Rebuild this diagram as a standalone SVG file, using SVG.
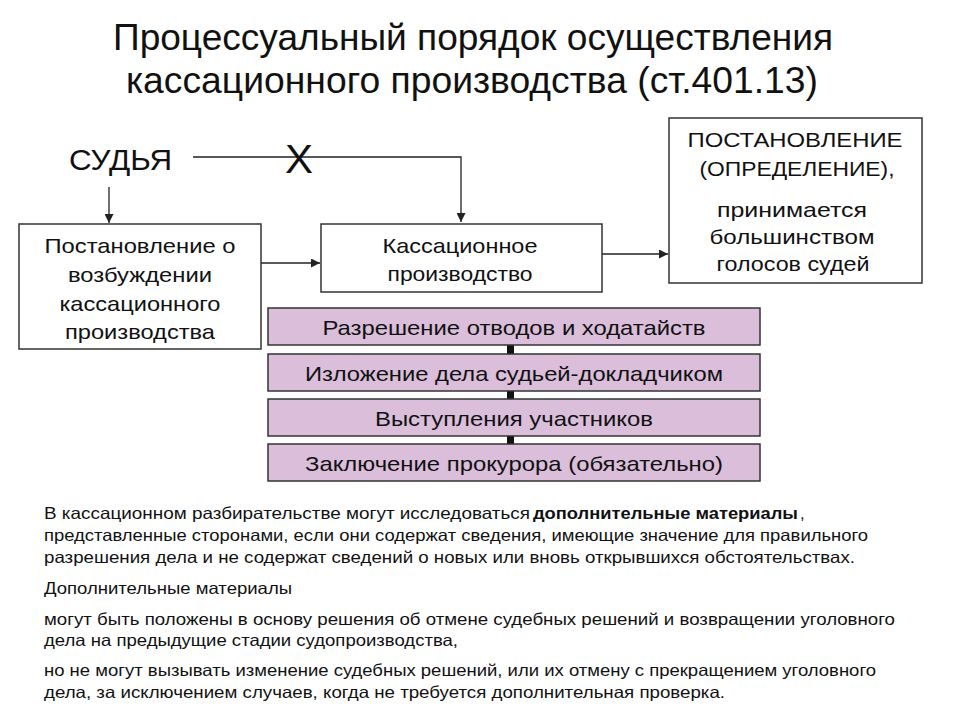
<svg xmlns="http://www.w3.org/2000/svg" width="960" height="720" viewBox="0 0 960 720">
<defs>
<marker id="ah" viewBox="0 0 10 10" refX="10" refY="5" markerWidth="9" markerHeight="9" markerUnits="userSpaceOnUse" orient="auto">
<path d="M0,0 L10,5 L0,10 Z" fill="#222"/>
</marker>
</defs>
<style>
text{font-family:"Liberation Sans",Arial,sans-serif;fill:#111}
.title{font-size:37px;text-anchor:middle}
.box{fill:#fff;stroke:#333;stroke-width:1.5}
.step{fill:#dabeda;stroke:#333;stroke-width:1.5}
.lbl{font-size:21px;text-anchor:middle}
.body{font-size:16.5px}
.b{font-weight:bold}
.conn{fill:none;stroke:#222;stroke-width:1.3}
</style>
<rect width="960" height="720" fill="#fff"/>
<g id="title">
<text class="title" x="473" y="50" textLength="720" lengthAdjust="spacingAndGlyphs">Процессуальный порядок осуществления</text>
<text class="title" x="472" y="93" textLength="692" lengthAdjust="spacingAndGlyphs">кассационного производства (ст.401.13)</text>
</g>
<g id="connectors">
<path class="conn" d="M193,157 H461 V222" marker-end="url(#ah)"/>
<path class="conn" d="M109,187 V223" marker-end="url(#ah)"/>
<path class="conn" d="M261,263 H320" marker-end="url(#ah)"/>
<path class="conn" d="M602,254 H668" marker-end="url(#ah)"/>
<rect x="507" y="345" width="7" height="9" fill="#111"/>
<rect x="507" y="391" width="7" height="8" fill="#111"/>
<rect x="507" y="436" width="7" height="8" fill="#111"/>
<text x="299" y="173" font-size="40" text-anchor="middle" textLength="28" lengthAdjust="spacingAndGlyphs">X</text>
</g>
<g id="judge">
<text x="69" y="170" font-size="30" textLength="103" lengthAdjust="spacingAndGlyphs">СУДЬЯ</text>
</g>
<g id="node-initiation">
<rect class="box" x="19" y="224" width="242" height="125"/>
<text class="lbl" x="140" y="253" textLength="191" lengthAdjust="spacingAndGlyphs">Постановление о</text>
<text class="lbl" x="140" y="282" textLength="144" lengthAdjust="spacingAndGlyphs">возбуждении</text>
<text class="lbl" x="140" y="311" textLength="161" lengthAdjust="spacingAndGlyphs">кассационного</text>
<text class="lbl" x="140" y="339" textLength="150" lengthAdjust="spacingAndGlyphs">производства</text>
</g>
<g id="node-cassation">
<rect class="box" x="321" y="224" width="281" height="68"/>
<text class="lbl" x="460" y="253" textLength="155" lengthAdjust="spacingAndGlyphs">Кассационное</text>
<text class="lbl" x="460" y="281" textLength="145" lengthAdjust="spacingAndGlyphs">производство</text>
</g>
<g id="node-decision">
<rect class="box" x="669" y="118" width="253" height="165"/>
<text class="lbl" x="795" y="147" textLength="215" lengthAdjust="spacingAndGlyphs">ПОСТАНОВЛЕНИЕ</text>
<text class="lbl" x="797" y="176" textLength="195" lengthAdjust="spacingAndGlyphs">(ОПРЕДЕЛЕНИЕ),</text>
<text class="lbl" x="792" y="217" textLength="150" lengthAdjust="spacingAndGlyphs">принимается</text>
<text class="lbl" x="792" y="244" textLength="165" lengthAdjust="spacingAndGlyphs">большинством</text>
<text class="lbl" x="793" y="271" textLength="153" lengthAdjust="spacingAndGlyphs">голосов судей</text>
</g>
<g id="step-1">
<rect class="step" x="268" y="308" width="492" height="37"/>
<text class="lbl" x="514" y="335" textLength="383" lengthAdjust="spacingAndGlyphs">Разрешение отводов и ходатайств</text>
</g>
<g id="step-2">
<rect class="step" x="268" y="354" width="492" height="37"/>
<text class="lbl" x="514" y="381" textLength="418" lengthAdjust="spacingAndGlyphs">Изложение дела судьей-докладчиком</text>
</g>
<g id="step-3">
<rect class="step" x="268" y="399" width="492" height="37"/>
<text class="lbl" x="514" y="426" textLength="278" lengthAdjust="spacingAndGlyphs">Выступления участников</text>
</g>
<g id="step-4">
<rect class="step" x="268" y="444" width="492" height="37"/>
<text class="lbl" x="514" y="471" textLength="418" lengthAdjust="spacingAndGlyphs">Заключение прокурора (обязательно)</text>
</g>
<g id="notes">
<text class="body" x="44" y="519" textLength="486" lengthAdjust="spacingAndGlyphs">В кассационном разбирательстве могут исследоваться</text>
<text class="body b" x="533" y="519" textLength="265" lengthAdjust="spacingAndGlyphs">дополнительные материалы</text>
<text class="body" x="800" y="519">,</text>
<text class="body" x="44" y="541" textLength="824" lengthAdjust="spacingAndGlyphs">представленные сторонами, если они содержат сведения, имеющие значение для правильного</text>
<text class="body" x="44" y="563" textLength="811" lengthAdjust="spacingAndGlyphs">разрешения дела и не содержат сведений о новых или вновь открывшихся обстоятельствах.</text>
<text class="body" x="44" y="594" textLength="248" lengthAdjust="spacingAndGlyphs">Дополнительные материалы</text>
<text class="body" x="44" y="625" textLength="851" lengthAdjust="spacingAndGlyphs">могут быть положены в основу решения об отмене судебных решений и возвращении уголовного</text>
<text class="body" x="44" y="646" textLength="414" lengthAdjust="spacingAndGlyphs">дела на предыдущие стадии судопроизводства,</text>
<text class="body" x="44" y="676" textLength="832" lengthAdjust="spacingAndGlyphs">но не могут вызывать изменение судебных решений, или их отмену с прекращением уголовного</text>
<text class="body" x="44" y="698" textLength="681" lengthAdjust="spacingAndGlyphs">дела, за исключением случаев, когда не требуется дополнительная проверка.</text>
</g>
</svg>
